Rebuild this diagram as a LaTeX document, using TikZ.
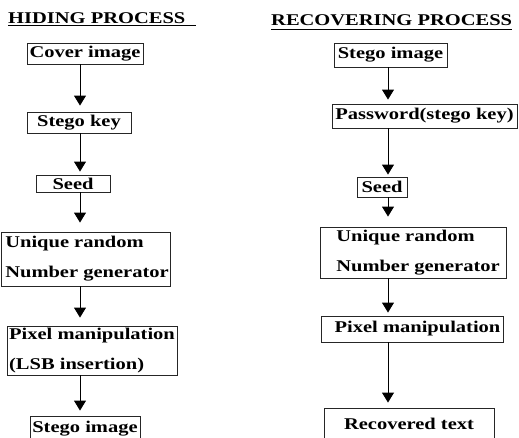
\documentclass[tikz,border=0pt]{standalone}
\usepackage{fontspec}
\setmainfont{Liberation Serif}[FakeStretch=1.25]
\usetikzlibrary{arrows.meta}
\tikzset{
  box/.style={draw=black!85, line width=0.9pt, inner xsep=0pt, inner ysep=0pt,
    font=\bfseries\fontsize{16.4}{30}\selectfont},
  ttl/.style={inner sep=0pt, anchor=base west, font=\bfseries\fontsize{16.4}{18}\selectfont},
  uline/.style={line width=1.3pt},
  arr/.style={line width=0.9pt, -{Triangle[width=12pt,length=10pt]}},
}
\begin{document}
\begin{tikzpicture}[x=1pt,y=-1pt]
\clip (0,0) rectangle (519,437);
\useasboundingbox (0,0) rectangle (519,437);
\fill[white] (0,0) rectangle (519,437);
% titles
\node[ttl] (t1) at (8,23) {HIDING PROCESS};
\node[ttl] (t2) at (271,25) {RECOVERING PROCESS};
\coordinate (u1) at (196,25.5);
\coordinate (u2) at (512,29.5);
\draw[uline] (t1.west |- u1) -- (u1);
\draw[uline] (t2.west |- u2) -- (u2);
% left column
\node[box, minimum width=116, minimum height=21] (cover) at (85,53.5) {Cover image};
\node[box, minimum width=104, minimum height=21] (key) at (79,122.5) {Stego key};
\node[box, minimum width=74, minimum height=17] (seed) at (73,183.5) {Seed};
\node[box, minimum width=169, minimum height=54, align=left] (uniq) at (85.5,259)
  {\hspace*{3pt}Unique random\\\hspace*{3pt}Number generator};
\node[box, minimum width=170, minimum height=49, align=left] (pix) at (92,350.5)
  {Pixel manipulation\\(LSB insertion)};
\node[box, minimum width=110, minimum height=26] (stego) at (85,429) {Stego image};
\coordinate (lx) at (80,0);
\draw[arr, shorten >=6pt] (cover.south -| lx) -- (key.north -| lx);
\draw[arr, shorten >=3pt] (key.south -| lx) -- (seed.north -| lx);
\draw[arr, shorten >=9pt] (seed.south -| lx) -- (uniq.north -| lx);
\draw[arr, shorten >=8pt] (uniq.south -| lx) -- (pix.north -| lx);
\draw[arr, shorten >=5pt] (pix.south -| lx) -- (stego.north -| lx);
% right column
\node[box, minimum width=113, minimum height=24] (rstego) at (390.5,55) {Stego image};
\node[box, minimum width=185, minimum height=24] (pass) at (424.5,116) {Password(stego key)};
\node[box, minimum width=50, minimum height=20] (rseed) at (382,187) {Seed};
\node[box, minimum width=186, minimum height=51, align=left] (runiq) at (413,252.5)
  {\hspace*{10pt}Unique random\\\hspace*{10pt}Number generator};
\node[box, minimum width=182, minimum height=26] (rpix) at (412,329)
  {\hspace*{11pt}Pixel manipulation};
\node[box, minimum width=170, minimum height=32] (rec) at (409,424) {Recovered text};
\coordinate (rx) at (388,0);
\draw[arr, shorten >=4pt] (rstego.south -| rx) -- (pass.north -| rx);
\draw[arr, shorten >=2pt] (pass.south -| rx) -- (rseed.north -| rx);
\draw[arr, shorten >=10pt] (rseed.south -| rx) -- (runiq.north -| rx);
\draw[arr, shorten >=3pt] (runiq.south -| rx) -- (rpix.north -| rx);
\draw[arr, shorten >=5pt] (rpix.south -| rx) -- (rec.north -| rx);
\end{tikzpicture}
\end{document}
